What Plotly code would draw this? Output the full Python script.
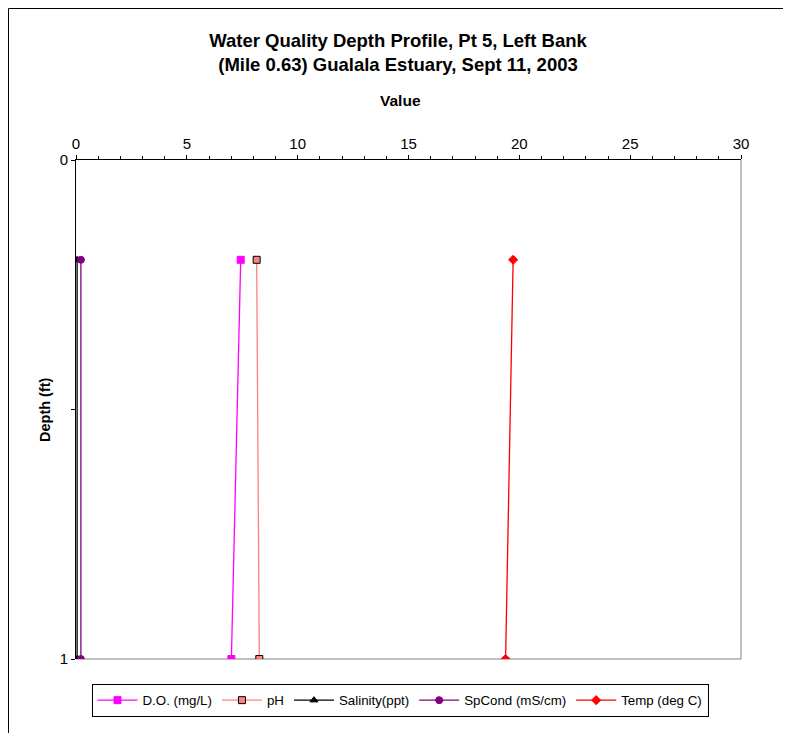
import plotly.graph_objects as go

depth = [0.2, 1.0]
do_vals = [7.43, 7.01]
ph_vals = [8.15, 8.27]
salinity_vals = [0.05, 0.05]
spcond_vals = [0.22, 0.22]
temp_vals = [19.72, 19.38]

series = [
    ("D.O. (mg/L)", do_vals, "#FF00FF", "square", "#FF00FF"),
    ("pH", ph_vals, "#FF8080", "square", "#000000"),
    ("Salinity(ppt)", salinity_vals, "#000000", "triangle-up", "#000000"),
    ("SpCond (mS/cm)", spcond_vals, "#800080", "circle", "#800080"),
    ("Temp (deg C)", temp_vals, "#FF0000", "diamond", "#FF0000"),
]

fig = go.Figure()
for name, vals, color, sym, lc in series:
    fig.add_trace(go.Scatter(
        x=vals, y=depth, mode="lines+markers", name=name,
        line=dict(color=color, width=1.3),
        marker=dict(symbol=sym, size=7, color=color, line=dict(color=lc, width=1)),
    ))

OFF = 8  # page body margin
W, H = 791 - 2 * OFF, 741 - 2 * OFF
L, T = 76 - OFF, 160 - OFF
R = W - (741 - OFF)
B = H - (659 - OFF)
pw, ph = W - L - R, H - T - B

def px(x):
    return (x - OFF - L) / pw

def py(y):
    return (H - B - (y - OFF)) / ph

font = "Liberation Sans, Arial, sans-serif"
fig.update_layout(
    width=W, height=H,
    margin=dict(l=L, r=R, t=T, b=B),
    paper_bgcolor="white", plot_bgcolor="white",
    font=dict(family=font, size=15, color="black"),
    title=dict(
        text="<b>Water Quality Depth Profile, Pt 5, Left Bank<br>(Mile 0.63) Gualala Estuary, Sept 11, 2003</b>",
        x=px(398), xref="paper", xanchor="center", y=1 - (47 - OFF) / H, yanchor="middle",
        font=dict(size=18.5, family=font),
    ),
    xaxis=dict(
        side="top", range=[0, 30], dtick=5, tick0=0, showgrid=False, zeroline=False,
        showline=True, linecolor="black", linewidth=1,
        ticks="outside", ticklen=4, tickcolor="black",
        minor=dict(dtick=1, ticks="outside", ticklen=3, tickcolor="black"),
        tickfont=dict(size=15),
    ),
    yaxis=dict(
        range=[1, 0], tickvals=[0, 0.5, 1], ticktext=["0", "", "1"],
        showgrid=False, zeroline=False, showline=True, linecolor="black", linewidth=1,
        ticks="outside", ticklen=4, tickcolor="black", tickfont=dict(size=15),
    ),
    showlegend=True,
    legend=dict(
        orientation="h", x=px(400), xanchor="center", y=py(684), yanchor="top",
        bordercolor="black", borderwidth=1, font=dict(size=13.3),
        itemwidth=40, tracegroupgap=0,
    ),
    shapes=[
        dict(type="line", xref="paper", yref="paper", x0=1, x1=1, y0=0, y1=1,
             line=dict(color="#808080", width=1), layer="below"),
        dict(type="line", xref="paper", yref="paper", x0=0, x1=1, y0=0, y1=0,
             line=dict(color="#808080", width=1), layer="below"),
        dict(type="line", xref="paper", yref="paper", x0=px(OFF + 0.5), x1=px(OFF + 0.5),
             y0=py(OFF + H), y1=py(OFF + 0.5), line=dict(color="black", width=1)),
        dict(type="line", xref="paper", yref="paper", x0=px(OFF + 0.5), x1=px(OFF + W),
             y0=py(OFF + 0.5), y1=py(OFF + 0.5), line=dict(color="black", width=1)),
    ],
    annotations=[
        dict(text="<b>Value</b>", xref="paper", yref="paper", x=px(400), y=py(100),
             showarrow=False, font=dict(size=15.5, family=font), xanchor="center", yanchor="middle"),
        dict(text="<b>Depth (ft)</b>", xref="paper", yref="paper", x=px(45), y=py(410),
             showarrow=False, textangle=-90, font=dict(size=14.5, family=font),
             xanchor="center", yanchor="middle"),
    ],
)

fig.write_html("out.html")
